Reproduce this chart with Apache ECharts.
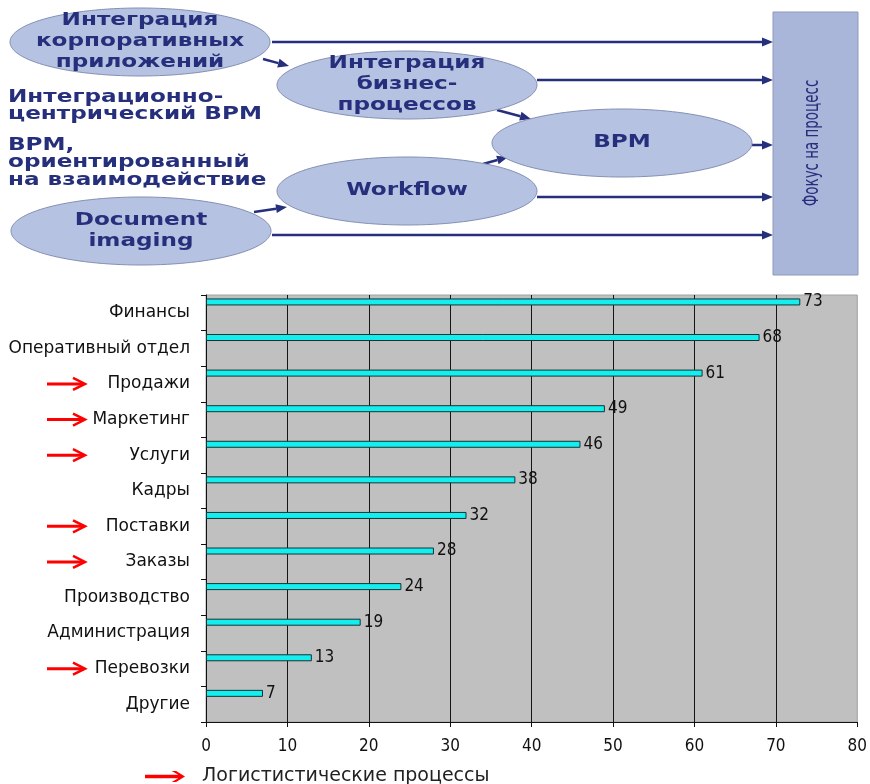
<!DOCTYPE html>
<html>
<head>
<meta charset="utf-8">
<script src="https://cdn.jsdelivr.net/npm/echarts@6/dist/echarts.min.js"></script>
<style>
  html, body { margin: 0; padding: 0; background: #fff; }
  #chart { width: 870px; height: 784px; }
</style>
</head>
<body>
<div id="chart"></div>
<script>
// данные диаграммы
const categories = ['Финансы', 'Оперативный отдел', 'Продажи', 'Маркетинг', 'Услуги', 'Кадры',
  'Поставки', 'Заказы', 'Производство', 'Администрация', 'Перевозки', 'Другие'];
const values = [73, 68, 61, 49, 46, 38, 32, 28, 24, 19, 13, 7];
// категории, отмеченные красной стрелкой
const logistic = ['Продажи', 'Маркетинг', 'Услуги', 'Поставки', 'Заказы', 'Перевозки'];
const legendName = 'Логистистические процессы';
const xMin = 0, xMax = 80, xStep = 10;

// подписи схемы сверху
const nodeTexts = {
  eai: 'Интеграция\nкорпоративных\nприложений',
  bpi: 'Интеграция\nбизнес-\nпроцессов',
  bpm: 'BPM',
  wf: 'Workflow',
  di: 'Document\nimaging',
  focus: 'Фокус на процесс',
};
const sideTexts = ['Интеграционно-\nцентрический BPM', 'BPM,\nориентированный\nна взаимодействие'];

const NAVY = '#262f7c';
const NARROW = "'Liberation Sans Narrow','DejaVu Sans Condensed','Liberation Sans',sans-serif";
const WIDE = "'DejaVu Sans',sans-serif";
const STRETCH = 1.36; // текст схемы в оригинале сильно разрежен

const chart = echarts.init(document.getElementById('chart'));

chart.setOption({
  animation: false,
  backgroundColor: '#fff',
  grid: {
    left: 206, right: 11, top: 295, bottom: 62,
    show: true, backgroundColor: '#c0c0c0', borderColor: '#a2a2a2', borderWidth: 1
  },
  legend: {
    data: [{ name: legendName, icon: 'path://M0,3.5L30,3.5L24,0L28,0L36,5L28,10L24,10L30,6.5L0,6.5Z' }],
    left: 140, top: 762,
    itemWidth: 40, itemHeight: 13,
    textStyle: { fontSize: 19, color: '#222', fontFamily: WIDE, padding: [0, 0, 0, 12] }
  },
  xAxis: {
    type: 'value', min: xMin, max: xMax, interval: xStep,
    axisLine: { show: true, lineStyle: { color: '#111', width: 1 } },
    axisTick: { show: true, length: 5, lineStyle: { color: '#111' } },
    axisLabel: { margin: 16, fontSize: 17, color: '#111', fontFamily: NARROW },
    splitLine: { show: true, showMaxLine: false, lineStyle: { color: '#151515', width: 1 } }
  },
  yAxis: {
    type: 'category', data: categories, inverse: true,
    axisLine: { show: true, lineStyle: { color: '#111', width: 1 } },
    axisTick: { show: true, length: 5, lineStyle: { color: '#111' } },
    axisLabel: { margin: 16, fontSize: 17, color: '#111', fontFamily: WIDE }
  },
  series: [
    {
      type: 'bar', name: 'Процессы', data: values,
      barWidth: 7, barGap: '210%',
      itemStyle: { color: '#14eeee', borderColor: '#153434', borderWidth: 1 },
      label: { show: true, position: 'right', distance: 3, fontSize: 17, color: '#111', fontFamily: NARROW }
    },
    {
      // пустая серия — только для легенды и смещения столбцов как в Excel
      type: 'bar', name: legendName, data: [],
      barWidth: 7, barGap: '210%',
      itemStyle: { color: '#f00' }
    }
  ]
});

// --- схема сверху ---
function arrow(x1, y1, x2, y2) {
  const a = Math.atan2(y2 - y1, x2 - x1), L = 11, W = 4.5;
  const bx = x2 - L * Math.cos(a), by = y2 - L * Math.sin(a);
  return [
    { type: 'line', silent: true, shape: { x1: x1, y1: y1, x2: bx, y2: by }, style: { stroke: NAVY, lineWidth: 2.5 } },
    { type: 'polygon', silent: true, shape: { points: [[x2, y2], [bx + W * Math.sin(a), by - W * Math.cos(a)], [bx - W * Math.sin(a), by + W * Math.cos(a)]] }, style: { fill: NAVY } }
  ];
}
function node(cx, cy, text) {
  return [
    { type: 'ellipse', silent: true, shape: { cx: cx, cy: cy, rx: 130, ry: 34 }, style: { fill: '#b6c2e1', stroke: '#8590b4', lineWidth: 1 } },
    { type: 'text', silent: true, x: cx, y: cy, scaleX: STRETCH, style: { text: text, align: 'center', verticalAlign: 'middle', fill: NAVY, font: 'bold 17px ' + WIDE, lineHeight: 21 } }
  ];
}

let diagram = [];
diagram = diagram.concat(
  arrow(272, 42, 773, 42),
  arrow(263, 59, 289, 66),
  arrow(537, 80, 773, 80),
  arrow(497, 110, 531, 119),
  arrow(752, 145, 773, 145),
  arrow(483, 164, 508, 157),
  arrow(537, 197, 773, 197),
  arrow(254, 212, 287, 207),
  arrow(272, 235, 773, 235)
);
diagram = diagram.concat(
  node(140, 42, nodeTexts.eai),
  node(407, 85, nodeTexts.bpi),
  node(622, 143, nodeTexts.bpm),
  node(407, 191, nodeTexts.wf),
  node(141, 231, nodeTexts.di)
);
diagram.push(
  { type: 'rect', silent: true, shape: { x: 773, y: 12, width: 85, height: 263 }, style: { fill: '#aab5da', stroke: '#8f99b8', lineWidth: 1 } },
  { type: 'text', silent: true, x: 813, y: 143, rotation: Math.PI / 2, scaleX: 0.64, style: { text: nodeTexts.focus, align: 'center', verticalAlign: 'middle', fill: NAVY, font: '21px ' + WIDE } },
  { type: 'text', silent: true, x: 8, y: 106, scaleX: STRETCH, style: { text: sideTexts[0], align: 'left', verticalAlign: 'middle', fill: NAVY, font: 'bold 17px ' + WIDE, lineHeight: 17 } },
  { type: 'text', silent: true, x: 8, y: 163, scaleX: STRETCH, style: { text: sideTexts[1], align: 'left', verticalAlign: 'middle', fill: NAVY, font: 'bold 17px ' + WIDE, lineHeight: 17.5 } }
);

// красные стрелки у логистических категорий, по координатам оси
function redArrow(x, y) {
  return {
    type: 'group', x: x, y: y, silent: true, children: [
      { type: 'line', shape: { x1: 0, y1: 0, x2: 37, y2: 0 }, style: { stroke: '#f00', lineWidth: 3 } },
      { type: 'polyline', shape: { points: [[26, -6], [38, 0], [26, 6]] }, style: { stroke: '#f00', lineWidth: 2.5, fill: null } }
    ]
  };
}
const arrows = logistic.map(function (name) {
  return redArrow(47, chart.convertToPixel({ yAxisIndex: 0 }, name));
});

chart.setOption({ graphic: diagram.concat(arrows) });
</script>
</body>
</html>
